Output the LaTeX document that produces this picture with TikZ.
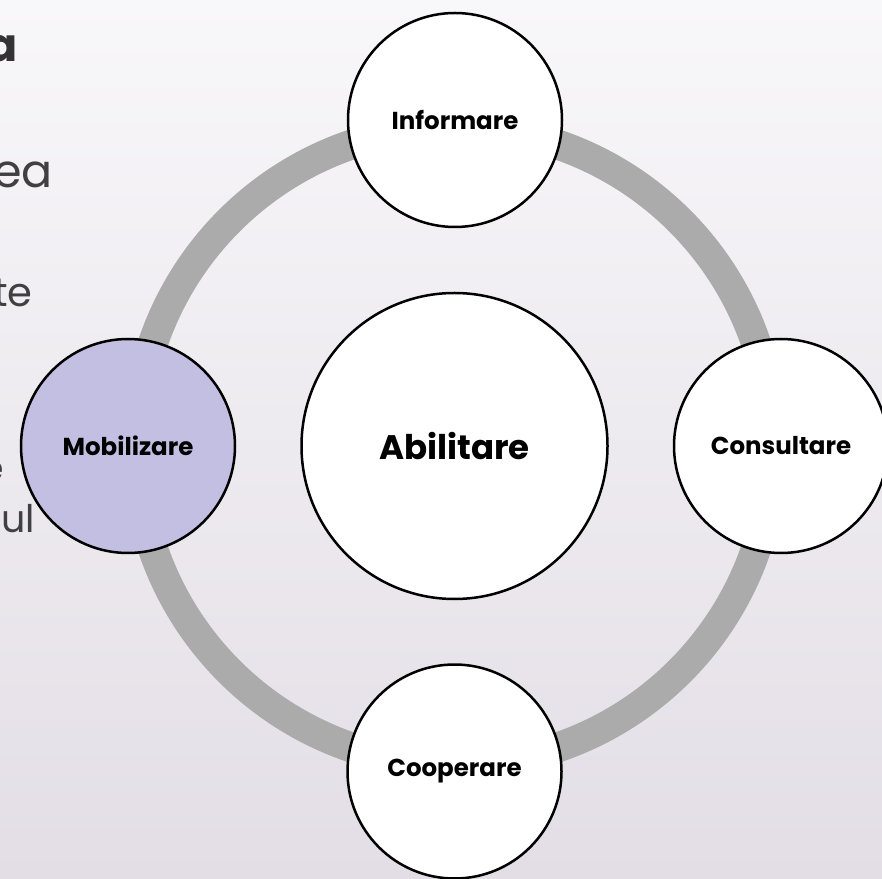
\documentclass[tikz,border=0pt]{standalone}
\usepackage{fontspec}
\setmainfont{Poppins}
\definecolor{bgtop}{HTML}{F8F7F9}
\definecolor{bgbot}{HTML}{E3DEE6}
\definecolor{ringgray}{HTML}{ABABAB}
\definecolor{mobfill}{HTML}{C3BFE2}
\definecolor{fraggray}{HTML}{404040}
\tikzset{
  x=1pt, y=1pt,
  bubble/.style={circle, draw=black, line width=2.5pt, fill=white, inner sep=0pt,
    minimum size=214pt, font=\bfseries\fontsize{24.5}{28}\selectfont},
  hub/.style={bubble, minimum size=306pt, font=\bfseries\fontsize{34}{39}\selectfont},
  ringline/.style={draw=ringgray, line width=30pt},
  frag/.style={anchor=base east, inner sep=0pt, text=fraggray}
}
\begin{document}
\begin{tikzpicture}
\useasboundingbox (0,0) rectangle (882,878);
\begin{scope}
\clip (0,0) rectangle (882,878);
\shade[top color=bgtop, bottom color=bgbot] (0,0) rectangle (882,878);
% cut-off text fragments at the left edge
\node[frag, font=\bfseries\fontsize{46}{50}\selectfont, text=black!80] (f1) at (18,816) {a};
\node[frag, font=\fontsize{46}{50}\selectfont] (f2) at (53,690) {ea};
\node[frag, font=\fontsize{40}{46}\selectfont] (f3) at (33,571) {te};
\node[frag, font=\fontsize{38}{44}\selectfont] (f4) at (4,396) {e};
\node[frag, font=\fontsize{38}{44}\selectfont] (f5) at (35,345) {ul};
% ring
\coordinate (ctr) at (454.5,432);
\draw[ringline] (ctr) circle (318.5);
% circles
\node[hub] (abil) at (ctr) {Abilitare};
\node[bubble] (info) at (455,758) {Informare};
\node[bubble] (cons) at (781,432) {Consultare};
\node[bubble] (coop) at (454.5,106.5) {Cooperare};
\node[bubble, fill=mobfill] (mob) at (128,432) {Mobilizare};
\end{scope}
\end{tikzpicture}
\end{document}
